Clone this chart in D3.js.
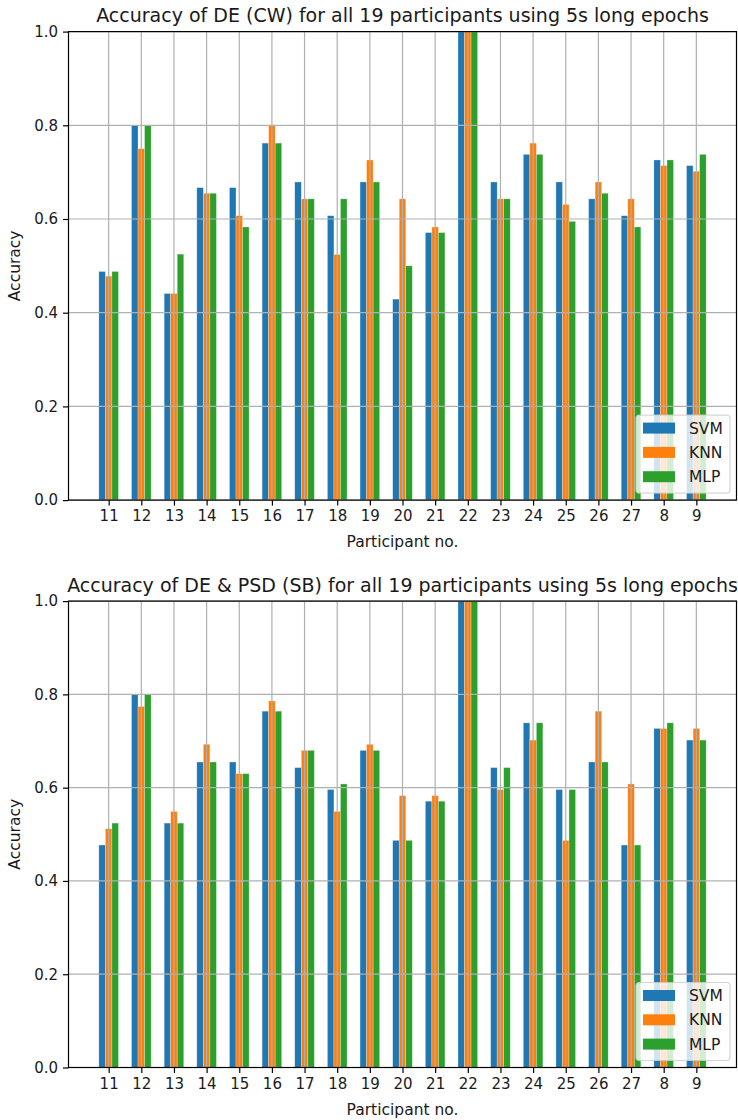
<!DOCTYPE html>
<html>
<head>
<meta charset="utf-8">
<script src="https://cdn.jsdelivr.net/npm/d3@7/dist/d3.min.js"></script>
<style>
  html, body { margin: 0; padding: 0; background: #fff; }
  svg { display: block; font-family: "DejaVu Sans", sans-serif; }
</style>
</head>
<body>
<svg id="fig" width="738" height="1120"></svg>
<script>
// Participants in plotting order
const participants = ["11", "12", "13", "14", "15", "16", "17", "18", "19", "20",
                      "21", "22", "23", "24", "25", "26", "27", "8", "9"];
const classifiers = ["SVM", "KNN", "MLP"];
const yTicks = [0.0, 0.2, 0.4, 0.6, 0.8, 1.0];

// Accuracy of DE features, channel-wise
const cwSvm = [0.488, 0.800, 0.441, 0.667, 0.667, 0.762, 0.679, 0.607, 0.679, 0.429,
               0.571, 1.000, 0.679, 0.738, 0.679, 0.643, 0.607, 0.726, 0.714];
const cwKnn = [0.478, 0.750, 0.441, 0.655, 0.607, 0.800, 0.643, 0.524, 0.726, 0.643,
               0.583, 1.000, 0.643, 0.762, 0.631, 0.679, 0.643, 0.714, 0.702];
const cwMlp = [0.488, 0.800, 0.525, 0.655, 0.583, 0.762, 0.643, 0.643, 0.679, 0.500,
               0.571, 1.000, 0.643, 0.738, 0.595, 0.655, 0.583, 0.726, 0.738];

// Accuracy of DE & PSD features, sub-band
const sbSvm = [0.477, 0.800, 0.524, 0.655, 0.655, 0.764, 0.643, 0.596, 0.680, 0.487,
               0.571, 1.000, 0.643, 0.739, 0.596, 0.655, 0.477, 0.727, 0.702];
const sbKnn = [0.512, 0.774, 0.549, 0.693, 0.630, 0.786, 0.680, 0.549, 0.693, 0.583,
               0.583, 1.000, 0.596, 0.702, 0.487, 0.764, 0.608, 0.727, 0.727];
const sbMlp = [0.524, 0.800, 0.524, 0.655, 0.630, 0.764, 0.680, 0.608, 0.680, 0.487,
               0.571, 1.000, 0.643, 0.739, 0.596, 0.655, 0.477, 0.739, 0.702];

const colors = ["#1f77b4", "#ff7f0e", "#2ca02c"];
const barWidth = 0.2;
const offsets = [-0.2, 0, 0.2];

const svg = d3.select("#fig");

function drawChart(top, bottom, title, series) {
  const left = 68.5, right = 736.5;
  const x = d3.scaleLinear().domain([-1.23, 19.23]).range([left, right]);
  const y = d3.scaleLinear().domain([0, 1]).range([bottom, top]);
  const g = svg.append("g");

  // bars
  series.forEach((vals, k) => {
    g.append("g").selectAll("rect")
      .data(vals)
      .join("rect")
      .attr("x", (d, i) => x(i + offsets[k] - barWidth / 2))
      .attr("width", (d, i) => x(i + offsets[k] + barWidth / 2) - x(i + offsets[k] - barWidth / 2))
      .attr("y", d => y(d))
      .attr("height", d => y(0) - y(d))
      .attr("fill", colors[k])
      .attr("stroke", "#fff")
      .attr("stroke-opacity", 0.45)
      .attr("stroke-width", 0.6);
  });

  // grid drawn over the bars
  const grid = g.append("g").attr("stroke", "#b0b0b0").attr("stroke-width", 1.2);
  grid.selectAll("line.v").data(participants).join("line")
    .attr("x1", (d, i) => x(i)).attr("x2", (d, i) => x(i))
    .attr("y1", top).attr("y2", bottom);
  grid.selectAll("line.h").data(yTicks).join("line")
    .attr("x1", left).attr("x2", right)
    .attr("y1", d => y(d)).attr("y2", d => y(d));

  // axes
  const xAxis = d3.axisBottom(x)
    .tickValues(d3.range(participants.length))
    .tickFormat(i => participants[i])
    .tickSize(5.5).tickPadding(5);
  const gx = g.append("g").attr("transform", `translate(0,${bottom})`).call(xAxis);
  gx.select(".domain").remove();
  gx.selectAll(".tick line").attr("stroke", "#000").attr("stroke-width", 1.2);
  gx.selectAll(".tick text").attr("fill", "#1a1a1a").style("font-size", "15px")
    .style("font-family", "DejaVu Sans");

  const yAxis = d3.axisLeft(y).tickValues(yTicks).tickFormat(d3.format(".1f"))
    .tickSize(5.5).tickPadding(5);
  const gy = g.append("g").attr("transform", `translate(${left},0)`).call(yAxis);
  gy.select(".domain").remove();
  gy.selectAll(".tick line").attr("stroke", "#000").attr("stroke-width", 1.2);
  gy.selectAll(".tick text").attr("fill", "#1a1a1a").style("font-size", "15px")
    .style("font-family", "DejaVu Sans");

  // frame
  g.append("rect")
    .attr("x", left).attr("y", top)
    .attr("width", right - left).attr("height", bottom - top)
    .attr("fill", "none").attr("stroke", "#000").attr("stroke-width", 1.2);

  // titles and labels
  g.append("text")
    .attr("x", (left + right) / 2).attr("y", top - 9.5)
    .attr("text-anchor", "middle").attr("fill", "#1a1a1a")
    .style("font-size", "19px")
    .text(title);
  g.append("text")
    .attr("x", (left + right) / 2).attr("y", bottom + 47)
    .attr("text-anchor", "middle").attr("fill", "#1a1a1a")
    .style("font-size", "15.5px")
    .text("Participant no.");
  g.append("text")
    .attr("transform", `translate(20,${(top + bottom) / 2}) rotate(-90)`)
    .attr("text-anchor", "middle").attr("fill", "#1a1a1a")
    .style("font-size", "15.5px")
    .text("Accuracy");

  // legend, lower right
  const lw = 94, lh = 78;
  const lx = right - 6.5 - lw, ly = bottom - 7 - lh;
  const lg = g.append("g").attr("transform", `translate(${lx},${ly})`);
  lg.append("rect")
    .attr("width", lw).attr("height", lh).attr("rx", 3)
    .attr("fill", "#fff").attr("fill-opacity", 0.8)
    .attr("stroke", "#ccc").attr("stroke-opacity", 0.8).attr("stroke-width", 1.2);
  classifiers.forEach((name, k) => {
    const cy = 13 + k * 24.3;
    lg.append("rect")
      .attr("x", 7).attr("y", cy - 5.5)
      .attr("width", 32).attr("height", 11)
      .attr("fill", colors[k]);
    lg.append("text")
      .attr("x", 53).attr("y", cy).attr("dy", "0.36em")
      .attr("fill", "#1a1a1a").style("font-size", "15.5px")
      .text(name);
  });
}

drawChart(31.6, 500.1, "Accuracy of DE (CW) for all 19 participants using 5s long epochs",
          [cwSvm, cwKnn, cwMlp]);
drawChart(601.1, 1067.5, "Accuracy of DE & PSD (SB) for all 19 participants using 5s long epochs",
          [sbSvm, sbKnn, sbMlp]);
</script>
</body>
</html>
